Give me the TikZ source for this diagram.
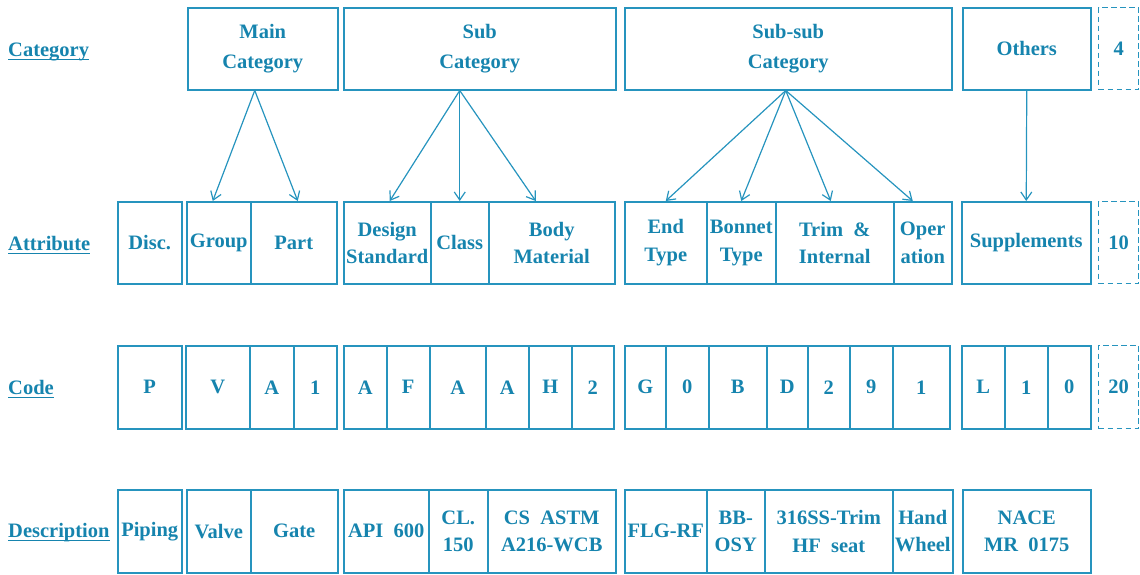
\documentclass[tikz,border=0pt]{standalone}
\usepackage{fontspec}
\setmainfont{Liberation Serif}
\usetikzlibrary{arrows.meta}
\definecolor{ink}{RGB}{22,132,174}
\definecolor{rule}{RGB}{38,148,190}
\tikzset{
  cell/.style={draw=rule, line width=1.5pt, inner sep=0pt, align=center, text=ink,
    font=\bfseries\fontsize{20.5}{27.5}\selectfont},
  topcell/.style={cell, font=\bfseries\fontsize{20.5}{29.5}\selectfont},
  spare/.style={cell, dash pattern=on 5.5pt off 3.5pt, line width=1.4pt},
  rowlabel/.style={anchor=base west, inner sep=0pt, text=ink,
    font=\bfseries\fontsize{20.5}{27}\selectfont},
  underline/.style={draw=ink, line width=1.1pt},
  link/.style={draw=rule, line width=1.2pt,
    -{Straight Barb[length=8pt,width=11pt,line width=1.2pt]}}
}
% \cellbox[style]{name}{x1}{y1}{x2}{y2}{text}
\newcommand{\cellbox}[7][cell]{%
  \node[#1, anchor=north west, minimum width={(#5-#3)*1pt},
        minimum height={(#6-#4)*1pt}] (#2) at (#3,#4) {#7};}
% underline a row label just below its baseline
\newcommand{\underlabel}[1]{%
  \draw[underline] ([yshift=-3.8pt]#1.base west) -- ([yshift=-3.8pt]#1.base east);}
\begin{document}
\begin{tikzpicture}[x=1pt, y=-1pt]
\useasboundingbox (0,0) rectangle (1140,574);

% row labels
\node[rowlabel] (lcat)  at (8,56)  {Category};
\node[rowlabel] (latt)  at (8,250) {Attribute};
\node[rowlabel] (lcode) at (8,394) {Code};
\node[rowlabel] (ldesc) at (8,537) {Description};
\underlabel{lcat}
\underlabel{latt}
\underlabel{lcode}
\underlabel{ldesc}

% category row
\cellbox[topcell]{main}{187}{7}{337}{89}{Main\\Category}
\cellbox[topcell]{sub}{343}{7}{615}{89}{Sub\\Category}
\cellbox[topcell]{subsub}{624}{7}{951}{89}{Sub-sub\\Category}
\cellbox[topcell]{others}{962}{7}{1090}{89}{Others}
\cellbox[spare]{n4}{1098}{7}{1138}{89}{4}

% attribute row
\cellbox{disc}{117}{201}{181}{283}{Disc.}
\cellbox{group}{186}{201}{250}{283}{Group}
\cellbox{part}{250}{201}{336}{283}{Part}
\cellbox{design}{343}{201}{430}{283}{Design\\Standard}
\cellbox{class}{430}{201}{488}{283}{Class}
\cellbox{body}{488}{201}{614}{283}{Body\\Material}
\cellbox{endt}{624}{201}{706}{283}{End\\Type}
\cellbox{bonnet}{706}{201}{775}{283}{Bonnet\\Type}
\cellbox{trim}{775}{201}{893}{283}{Trim\ \ \&\\Internal}
\cellbox{oper}{893}{201}{951}{283}{Oper\\ation}
\cellbox{supp}{961}{201}{1090}{283}{Supplements}
\cellbox[spare]{n10}{1098}{201}{1138}{283}{10}

% code row
\cellbox{cP}{117}{345}{181}{428}{P}
\cellbox{cV}{185}{345}{249}{428}{V}
\cellbox{cAa}{249}{345}{293}{428}{A}
\cellbox{cOne}{293}{345}{336}{428}{1}
\cellbox{cAb}{343}{345}{386}{428}{A}
\cellbox{cF}{386}{345}{429}{428}{F}
\cellbox{cAc}{429}{345}{485}{428}{A}
\cellbox{cAd}{485}{345}{528}{428}{A}
\cellbox{cH}{528}{345}{571}{428}{H}
\cellbox{cTwo}{571}{345}{613}{428}{2}
\cellbox{cG}{624}{345}{665}{428}{G}
\cellbox{cZero}{665}{345}{708}{428}{0}
\cellbox{cB}{708}{345}{766}{428}{B}
\cellbox{cD}{766}{345}{807}{428}{D}
\cellbox{cTwoB}{807}{345}{849}{428}{2}
\cellbox{cNine}{849}{345}{892}{428}{9}
\cellbox{cOneB}{892}{345}{949}{428}{1}
\cellbox{cL}{961}{345}{1004}{428}{L}
\cellbox{cOneC}{1004}{345}{1047}{428}{1}
\cellbox{cZeroB}{1047}{345}{1090}{428}{0}
\cellbox[spare]{n20}{1098}{345}{1138}{428}{20}

% description row
\cellbox{dpiping}{117}{489}{181}{572}{Piping}
\cellbox{dvalve}{186}{489}{250}{572}{Valve}
\cellbox{dgate}{250}{489}{337}{572}{Gate}
\cellbox{dapi}{343}{489}{428}{572}{API\ \ 600}
\cellbox{dcl}{428}{489}{487}{572}{CL.\\150}
\cellbox{dcs}{487}{489}{615}{572}{CS\ \ ASTM\\A216-WCB}
\cellbox{dflg}{624}{489}{706}{572}{FLG-RF}
\cellbox{dbb}{706}{489}{764}{572}{BB-\\OSY}
\cellbox{dtrim}{764}{489}{892}{572}{316SS-Trim\\HF\ \ seat}
\cellbox{dhand}{892}{489}{952}{572}{Hand\\Wheel}
\cellbox{dnace}{962}{489}{1090}{572}{NACE\\MR\ \ 0175}

% category -> attribute links
\draw[link] ([xshift=-8pt]main.south) -- ([xshift=-6pt]group.north);
\draw[link] ([xshift=-8pt]main.south) -- ([xshift=4pt]part.north);
\draw[link] ([xshift=-20pt]sub.south) -- ([xshift=2.5pt]design.north);
\draw[link] ([xshift=-20pt]sub.south) -- (class.north);
\draw[link] ([xshift=-20pt]sub.south) -- ([xshift=-16pt]body.north);
\draw[link] ([xshift=-2.5pt]subsub.south) -- (endt.north);
\draw[link] ([xshift=-2.5pt]subsub.south) -- (bonnet.north);
\draw[link] ([xshift=-2.5pt]subsub.south) -- ([xshift=-4pt]trim.north);
\draw[link] ([xshift=-2.5pt]subsub.south) -- ([xshift=-10pt]oper.north);
\draw[link] (others.south) -- (supp.north);
\end{tikzpicture}
\end{document}
